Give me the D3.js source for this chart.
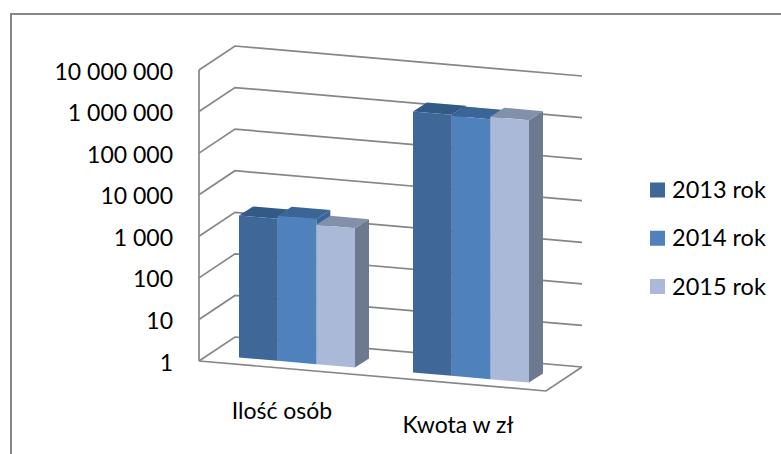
<!DOCTYPE html>
<html><head><meta charset="utf-8">
<script src="https://cdn.jsdelivr.net/npm/d3@7"></script>
<style>html,body{margin:0;padding:0;background:#fff}svg{display:block}text{font-family:Lato,"Open Sans",sans-serif;fill:#000}</style>
</head><body><svg id="c" width="781" height="454"></svg>
<script>
const categories = ["Ilość osób", "Kwota w zł"];
const seriesNames = ["2013 rok", "2014 rok", "2015 rok"];
const values2013 = [2600, 1900000];
const values2014 = [3100, 1800000];
const values2015 = [2250, 2050000];
const tickValues = [1, 10, 100, 1000, 10000, 100000, 1000000, 10000000];
const tickLabels = ["1", "10", "100", "1 000", "10 000", "100 000", "1 000 000", "10 000 000"];
const allValues = [values2013, values2014, values2015];
const frontColors = ["#3f6797", "#4f81bd", "#aab9d8"];
const topColors = ["#315a87", "#3a6597", "#8290aa"];
const sideColors = ["#2f5580", "#3a6597", "#6c798f"];

const svg = d3.select("#c");
const grey = "#868686";
svg.append("rect").attr("x", 11).attr("y", 14).attr("width", 800).attr("height", 500)
  .attr("fill", "none").attr("stroke", grey).attr("stroke-width", 2);

// oblique projection of the 3D chart box
const X0 = 199, Y0 = 361, DX = 36, DY = -24, W = 347, SL = 30 / 347;
const h = d3.scaleLog().domain([1, 10000000]).range([0, 291]);
const line = d3.line();
const P = (u, d, v) => [X0 + u + d * DX, Y0 + u * SL + d * DY - h(v)];

const g = svg.append("g");
const stroke = s => s.attr("fill", "none").attr("stroke", grey).attr("stroke-width", 1.7);
tickValues.forEach(v => {
  g.append("path").attr("d", line([P(0, 0, v), P(0, 1, v), P(W, 1, v)])).call(stroke);
});
g.append("path").attr("d", line([P(0, 0, 1), P(W, 0, 1), P(W, 1, 1)])).call(stroke);
g.append("path").attr("d", line([P(0, 0, 1), P(0, 0, 10000000)])).call(stroke);

svg.selectAll("text.tick").data(tickValues).join("text").attr("class", "tick")
  .attr("x", 173).attr("y", v => P(0, 0, v)[1] + 9.5).attr("text-anchor", "end")
  .attr("font-size", 23).text((v, i) => tickLabels[i]);

// bars
const groupStart = d3.scalePoint().domain(categories).range([40, 214]);
const series = d3.scaleBand().domain(seriesNames).range([0, 116]);
const bx = 14, by = 9, lift = 7;
const pt = (u, d, val) => {
  const p = P(u, 0, val);
  return [p[0] + d * bx, p[1] - d * by - lift];
};
categories.forEach((c, ci) => {
  seriesNames.forEach((s, si) => {
    const v = allValues[si][ci];
    const u0 = groupStart(c) + series(s), u1 = u0 + series.bandwidth();
    const bar = svg.append("g");
    bar.append("path").attr("fill", sideColors[si])
      .attr("d", line([pt(u1, 0, 1), pt(u1, 1, 1), pt(u1, 1, v), pt(u1, 0, v)]) + "Z");
    bar.append("path").attr("fill", topColors[si])
      .attr("d", line([pt(u0, 0, v), pt(u1, 0, v), pt(u1, 1, v), pt(u0, 1, v)]) + "Z");
    bar.append("path").attr("fill", frontColors[si])
      .attr("d", line([pt(u0, 0, 1), pt(u1, 0, 1), pt(u1, 0, v), pt(u0, 0, v)]) + "Z");
  });
});

// category labels
const catLabelX = [282, 458], catLabelY = [419, 433];
svg.selectAll("text.cat").data(categories).join("text").attr("class", "cat")
  .attr("x", (d, i) => catLabelX[i]).attr("y", (d, i) => catLabelY[i])
  .attr("text-anchor", "middle").attr("font-size", 23).text(d => d);

// legend
const ly = d3.scalePoint().domain(seriesNames).range([190, 286.5]);
seriesNames.forEach((s, i) => {
  svg.append("rect").attr("x", 650).attr("y", ly(s) - 7.5).attr("width", 15).attr("height", 15).attr("fill", frontColors[i]);
  svg.append("text").attr("x", 672).attr("y", ly(s) + 8).attr("font-size", 23.5).text(s);
});
</script></body></html>
